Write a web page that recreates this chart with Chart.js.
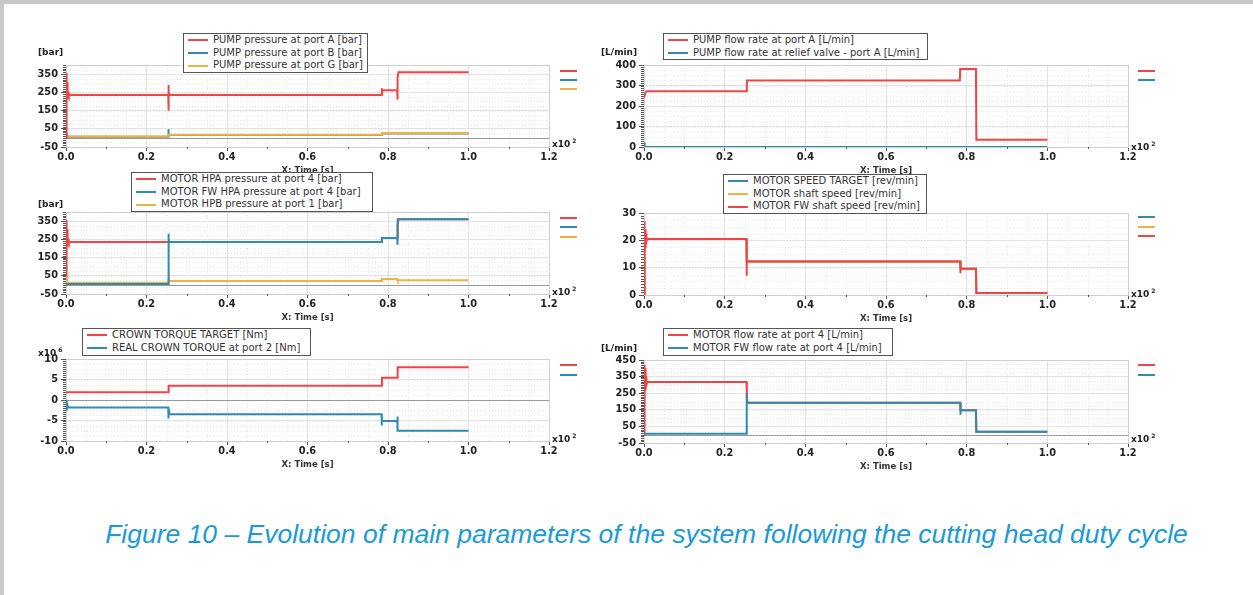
<!DOCTYPE html>
<html>
<head>
<meta charset="utf-8">
<script src="https://cdn.jsdelivr.net/npm/chart.js@4.4.1/dist/chart.umd.min.js"></script>
<style>
html,body{margin:0;padding:0;background:#fff;}
#page{position:relative;width:1253px;height:595px;overflow:hidden;background:#fff;}
.frameTop{position:absolute;left:0;top:0;width:1253px;height:4px;background:#c9c9c9;}
.frameLeft{position:absolute;left:0;top:0;width:4px;height:595px;background:#c9c9c9;}
canvas.cv{position:absolute;z-index:1;}
.legend{position:absolute;background:#fff;border:1px solid #555;font:10px "DejaVu Sans",sans-serif;color:#333;z-index:5;box-sizing:border-box;padding:0 0 0 4px;}
.legend .row{height:12.7px;line-height:12.7px;white-space:nowrap;display:flex;align-items:center;}
.legend .sw{display:inline-block;width:20px;height:2px;margin-right:5px;flex:none;}
.unit{position:absolute;font:bold 9px "DejaVu Sans",sans-serif;color:#222;z-index:4;line-height:10px;}
.mk{position:absolute;width:17px;height:2px;z-index:4;}
.xp{position:absolute;font:bold 9px "DejaVu Sans",sans-serif;color:#222;z-index:4;line-height:10px;}
.xp sup{font-size:6px;vertical-align:4px;margin-left:2px;}
.unit sup{font-size:6px;vertical-align:4px;margin-left:2px;}
.caption{position:absolute;left:0;width:1253px;top:519px;text-align:center;font:italic 26.5px "Liberation Sans",Arial,sans-serif;color:#1a9bd7;z-index:4;padding-left:40px;box-sizing:border-box;white-space:nowrap;}
</style>
</head>
<body>
<div id="page">
  <div class="frameTop"></div>
  <div class="frameLeft"></div>

  <canvas id="cTL" class="cv"></canvas>
  <canvas id="cTR" class="cv"></canvas>
  <canvas id="cML" class="cv"></canvas>
  <canvas id="cMR" class="cv"></canvas>
  <canvas id="cBL" class="cv"></canvas>
  <canvas id="cBR" class="cv"></canvas>

  <!-- legends -->
  <div class="legend" style="left:183px;top:33px;width:185px;height:40px;">
    <div class="row"><span class="sw" style="background:#f24444"></span>PUMP pressure at port A [bar]</div>
    <div class="row"><span class="sw" style="background:#2e8caf"></span>PUMP pressure at port B [bar]</div>
    <div class="row"><span class="sw" style="background:#f5b041"></span>PUMP pressure at port G [bar]</div>
  </div>
  <div class="legend" style="left:663px;top:33px;width:265px;height:27px;">
    <div class="row"><span class="sw" style="background:#f24444"></span>PUMP flow rate at port A [L/min]</div>
    <div class="row"><span class="sw" style="background:#2e8caf"></span>PUMP flow rate at relief valve - port A [L/min]</div>
  </div>
  <div class="legend" style="left:131px;top:172px;width:242px;height:40px;">
    <div class="row"><span class="sw" style="background:#f24444"></span>MOTOR HPA pressure at port 4 [bar]</div>
    <div class="row"><span class="sw" style="background:#2e8caf"></span>MOTOR FW HPA pressure at port 4 [bar]</div>
    <div class="row"><span class="sw" style="background:#f5b041"></span>MOTOR HPB pressure at port 1 [bar]</div>
  </div>
  <div class="legend" style="left:723px;top:174px;width:204px;height:40px;">
    <div class="row"><span class="sw" style="background:#2e8caf"></span>MOTOR SPEED TARGET [rev/min]</div>
    <div class="row"><span class="sw" style="background:#f5b041"></span>MOTOR shaft speed [rev/min]</div>
    <div class="row"><span class="sw" style="background:#f24444"></span>MOTOR FW shaft speed [rev/min]</div>
  </div>
  <div class="legend" style="left:82px;top:328px;width:229px;height:28px;">
    <div class="row"><span class="sw" style="background:#f24444"></span>CROWN TORQUE TARGET [Nm]</div>
    <div class="row"><span class="sw" style="background:#2e8caf"></span>REAL CROWN TORQUE at port 2 [Nm]</div>
  </div>
  <div class="legend" style="left:663px;top:328px;width:230px;height:28px;">
    <div class="row"><span class="sw" style="background:#f24444"></span>MOTOR flow rate at port 4 [L/min]</div>
    <div class="row"><span class="sw" style="background:#2e8caf"></span>MOTOR FW flow rate at port 4 [L/min]</div>
  </div>

  <!-- unit labels -->
  <div class="unit" style="left:38px;top:47px;">[bar]</div>
  <div class="unit" style="left:601px;top:47px;">[L/min]</div>
  <div class="unit" style="left:38px;top:199px;">[bar]</div>
  <div class="unit" style="left:38px;top:345px;">x10<sup>6</sup></div>
  <div class="unit" style="left:601px;top:343px;">[L/min]</div>

  <!-- x10^2 -->
  <div class="xp" style="left:552px;top:136px;">x10<sup>2</sup></div>
  <div class="xp" style="left:1131px;top:139px;">x10<sup>2</sup></div>
  <div class="xp" style="left:552px;top:284px;">x10<sup>2</sup></div>
  <div class="xp" style="left:1131px;top:286px;">x10<sup>2</sup></div>
  <div class="xp" style="left:552px;top:431px;">x10<sup>2</sup></div>
  <div class="xp" style="left:1131px;top:431px;">x10<sup>2</sup></div>

  <!-- right side markers -->
  <div class="mk" style="left:560px;top:70px;background:#f24444"></div>
  <div class="mk" style="left:560px;top:79px;background:#2e8caf"></div>
  <div class="mk" style="left:560px;top:88px;background:#f5b041"></div>
  <div class="mk" style="left:1138px;top:70px;background:#f24444"></div>
  <div class="mk" style="left:1138px;top:79px;background:#2e8caf"></div>
  <div class="mk" style="left:560px;top:217px;background:#f24444"></div>
  <div class="mk" style="left:560px;top:226px;background:#2e8caf"></div>
  <div class="mk" style="left:560px;top:236px;background:#f5b041"></div>
  <div class="mk" style="left:1138px;top:216px;background:#2e8caf"></div>
  <div class="mk" style="left:1138px;top:226px;background:#f5b041"></div>
  <div class="mk" style="left:1138px;top:235px;background:#f24444"></div>
  <div class="mk" style="left:560px;top:364px;background:#f24444"></div>
  <div class="mk" style="left:560px;top:374px;background:#2e8caf"></div>
  <div class="mk" style="left:1138px;top:364px;background:#f24444"></div>
  <div class="mk" style="left:1138px;top:374px;background:#2e8caf"></div>

  <div class="caption">Figure 10 – Evolution of main parameters of the system following the cutting head duty cycle</div>
</div>

<script>
// ---------- shared axis data ----------
const xTickVals   = [0, 0.2, 0.4, 0.6, 0.8, 1.0, 1.2];
const xTickLabels = ['0.0', '0.2', '0.4', '0.6', '0.8', '1.0', '1.2'];

// ---------- top-left: pump pressures [bar] ----------
const tlYTicks = [-50, 50, 150, 250, 350];
const tlTimeA  = [0, 0.001, 0.002, 0.003, 0.004, 0.005, 0.007, 0.254, 0.2545, 0.255, 0.2555, 0.257, 0.784, 0.7845, 0.785, 0.786, 0.823, 0.8235, 0.824, 0.826, 1.0];
const tlPumpA  = [0, 355, 190, 305, 210, 250, 235, 235, 290, 150, 255, 235, 235, 272, 238, 262, 262, 210, 330, 360, 360];
const tlTimeB  = [0, 0.001, 0.003, 0.006, 0.254, 0.2545, 0.255, 0.257, 0.784, 0.785, 1.0];
const tlPumpB  = [0, 25, 8, 6, 6, 48, 20, 16, 16, 24, 24];
const tlTimeG  = [0, 0.254, 0.255, 0.784, 0.785, 0.823, 0.824, 1.0];
const tlPumpG  = [8, 8, 17, 17, 27, 27, 25, 25];

// ---------- top-right: pump flow [L/min] ----------
const trYTicks = [0, 100, 200, 300, 400];
const trTimeQ  = [0, 0.003, 0.006, 0.254, 0.255, 0.783, 0.784, 0.823, 0.824, 1.0];
const trPumpQ  = [240, 262, 272, 272, 325, 325, 380, 380, 35, 35];
const trTimeR  = [0, 0.001, 0.002, 1.0];
const trRelief = [0, 22, 0, 0];

// ---------- middle-left: motor pressures [bar] ----------
const mlYTicks = [-50, 50, 150, 250, 350];
const mlTimeHPA = [0, 0.001, 0.002, 0.003, 0.004, 0.005, 0.007, 0.254, 0.255, 0.784, 0.785, 0.823, 0.824, 1.0];
const mlHPA     = [0, 355, 190, 305, 210, 250, 235, 235, 235, 235, 258, 258, 360, 360];
const mlTimeFW  = [0, 0.254, 0.2545, 0.255, 0.2555, 0.257, 0.784, 0.7845, 0.785, 0.786, 0.823, 0.8235, 0.824, 0.826, 1.0];
const mlFW      = [5, 5, 280, 150, 250, 235, 235, 262, 240, 258, 258, 220, 330, 360, 360];
const mlTimeHPB = [0, 0.001, 0.002, 0.004, 0.254, 0.2545, 0.255, 0.257, 0.784, 0.785, 0.823, 0.824, 1.0];
const mlHPB     = [30, 45, 10, 12, 12, 52, 25, 22, 22, 33, 33, 25, 25];

// ---------- middle-right: speeds [rev/min] ----------
const mrYTicks = [0, 10, 20, 30];
const mrTimeT  = [0, 0.254, 0.255, 0.784, 0.785, 0.823, 0.824, 1.0];
const mrTarget = [20.5, 20.5, 12.3, 12.3, 9.6, 9.6, 0.7, 0.7];
const mrTimeS  = [0, 0.002, 0.006, 0.254, 0.255, 0.784, 0.785, 0.823, 0.824, 1.0];
const mrShaft  = [0, 22, 20.5, 20.5, 12.3, 12.3, 9.6, 9.6, 0.7, 0.7];
const mrTimeFW = [0, 0.001, 0.002, 0.003, 0.004, 0.005, 0.006, 0.008, 0.254, 0.2545, 0.255, 0.257, 0.784, 0.7845, 0.785, 0.786, 0.823, 0.824, 1.0];
const mrFW     = [0, 27, 15, 24, 17, 22.5, 19.5, 20.5, 20.5, 7, 13, 12.3, 12.3, 8, 10, 9.6, 9.6, 0.7, 0.7];

// ---------- bottom-left: crown torque [x10^6 Nm] ----------
const blYTicks = [-10, -5, 0, 5, 10];
const blTimeT  = [0, 0.254, 0.255, 0.784, 0.785, 0.823, 0.824, 1.0];
const blTarget = [1.9, 1.9, 3.5, 3.5, 5.4, 5.4, 8.0, 8.0];
const blTimeR  = [0, 0.001, 0.002, 0.003, 0.005, 0.254, 0.2545, 0.255, 0.257, 0.784, 0.7845, 0.785, 0.823, 0.8235, 0.824, 1.0];
const blReal   = [0, -0.3, -2.6, -1.1, -1.8, -1.8, -4.5, -2.0, -3.5, -3.5, -6.2, -5.1, -5.1, -4.0, -7.5, -7.5];

// ---------- bottom-right: motor flow [L/min] ----------
const brYTicks = [-50, 50, 150, 250, 350, 450];
const brTimeM  = [0, 0.001, 0.002, 0.003, 0.004, 0.005, 0.006, 0.008, 0.254, 0.255, 0.256, 0.784, 0.785, 0.823, 0.824, 1.0];
const brMotor  = [0, 420, 230, 400, 270, 350, 300, 318, 318, 250, 192, 192, 148, 148, 18, 18];
const brTimeFW = [0, 0.254, 0.2545, 0.255, 0.784, 0.7845, 0.785, 0.786, 0.823, 0.824, 1.0];
const brFW     = [5, 5, 250, 192, 192, 120, 155, 148, 148, 18, 18];

// ---------- styling ----------
const RED = '#f24444', BLUE = '#2e8caf', ORANGE = '#f5b041';
const AXIS = '#555';
const TICK_FONT = {family: 'DejaVu Sans', size: 9.8, weight: 'bold'};

const pts = (t, v) => t.map((x, i) => ({x: x, y: v[i]}));

const decor = {
  id: 'decor',
  beforeDatasetsDraw(chart, args, o) {
    const {ctx, chartArea: a, scales: {x, y}} = chart;
    ctx.save();
    ctx.lineWidth = 1;
    ctx.strokeStyle = '#e8e8e8';
    ctx.setLineDash([1, 2]);
    for (let k = 1; k < 24; k++) {
      if (k % 4 === 0) continue;
      const px = Math.round(x.getPixelForValue(k * 0.05)) + 0.5;
      ctx.beginPath(); ctx.moveTo(px, a.top); ctx.lineTo(px, a.bottom); ctx.stroke();
    }
    const n = Math.round((o.max - o.min) / o.gridStep);
    for (let k = 1; k < n; k++) {
      const v = o.min + k * o.gridStep;
      const py = Math.round(y.getPixelForValue(v)) + 0.5;
      ctx.beginPath(); ctx.moveTo(a.left, py); ctx.lineTo(a.right, py); ctx.stroke();
    }
    ctx.setLineDash([]);
    ctx.strokeStyle = '#cfcfcf';
    ctx.strokeRect(a.left + 0.5, a.top + 0.5, a.right - a.left, a.bottom - a.top);
    if (0 > o.min && 0 < o.max) {
      const py = Math.round(y.getPixelForValue(0)) + 0.5;
      ctx.strokeStyle = '#9a9a9a';
      ctx.beginPath(); ctx.moveTo(a.left, py); ctx.lineTo(a.right, py); ctx.stroke();
    }
    ctx.restore();
  },
  afterDraw(chart, args, o) {
    const {ctx, chartArea: a, scales: {x, y}} = chart;
    ctx.save();
    ctx.strokeStyle = AXIS;
    ctx.lineWidth = 1;
    const n = Math.round((o.max - o.min) / o.tickStep);
    for (let k = 0; k <= n; k++) {
      const py = Math.round(y.getPixelForValue(o.min + k * o.tickStep)) + 0.5;
      ctx.beginPath(); ctx.moveTo(a.left - 3, py); ctx.lineTo(a.left, py); ctx.stroke();
    }
    for (let k = 1; k < 12; k += 2) {
      const px = Math.round(x.getPixelForValue(k * 0.1)) + 0.5;
      ctx.beginPath(); ctx.moveTo(px, a.bottom); ctx.lineTo(px, a.bottom + 2); ctx.stroke();
    }
    ctx.restore();
  }
};

function build(id, g, yMin, yMax, yTicks, gridStep, tickStep, series) {
  const cv = document.getElementById(id);
  cv.width = g.w; cv.height = g.h;
  cv.style.left = g.x + 'px'; cv.style.top = g.y + 'px';
  cv.style.width = g.w + 'px'; cv.style.height = g.h + 'px';
  const yW = g.l - g.x;
  const xH = 30;
  const padTop = g.t - g.y;
  const padRight = g.x + g.w - g.r;
  const padBottom = g.y + g.h - (g.b + xH);
  new Chart(cv, {
    type: 'line',
    data: {
      datasets: series.map(s => ({
        label: s.label,
        data: pts(s.t, s.v),
        borderColor: s.color,
        backgroundColor: s.color,
        borderWidth: 2,
        pointRadius: 0,
        tension: 0,
        fill: false,
        order: s.order
      }))
    },
    options: {
      responsive: false,
      animation: false,
      devicePixelRatio: 1,
      layout: {padding: {left: 0, top: padTop, right: padRight, bottom: padBottom}},
      plugins: {
        legend: {display: false},
        tooltip: {enabled: false},
        decor: {min: yMin, max: yMax, gridStep: gridStep, tickStep: tickStep}
      },
      scales: {
        x: {
          type: 'linear', min: 0, max: 1.2,
          afterBuildTicks: s => { s.ticks = xTickVals.map(v => ({value: v})); },
          afterFit: s => { s.height = xH; },
          ticks: {
            callback: (v, i) => xTickLabels[i],
            font: TICK_FONT, color: '#222', padding: 1,
            maxRotation: 0, autoSkip: false
          },
          grid: {color: '#e2e2e2', tickColor: AXIS, tickLength: 4},
          border: {color: AXIS, width: 1},
          title: {
            display: true, text: 'X: Time [s]',
            font: {family: 'DejaVu Sans', size: 8.5, weight: 'bold'},
            color: '#333', padding: {top: 0, bottom: 1}
          }
        },
        y: {
          type: 'linear', min: yMin, max: yMax,
          afterBuildTicks: s => { s.ticks = yTicks.map(v => ({value: v})); },
          afterFit: s => { s.width = yW; },
          ticks: {
            callback: (v, i) => String(yTicks[i]),
            font: TICK_FONT, color: '#222', padding: 3, autoSkip: false
          },
          grid: {color: '#e2e2e2', tickColor: AXIS, tickLength: 5},
          border: {color: AXIS, width: 1}
        }
      }
    },
    plugins: [decor]
  });
}

build('cTL', {x: 20, y: 50, w: 570, h: 128, l: 66, r: 549, t: 65, b: 147}, -50, 400, tlYTicks, 25, 10, [
  {label: 'PUMP pressure at port A [bar]', color: RED, t: tlTimeA, v: tlPumpA, order: 0},
  {label: 'PUMP pressure at port B [bar]', color: BLUE, t: tlTimeB, v: tlPumpB, order: 2},
  {label: 'PUMP pressure at port G [bar]', color: ORANGE, t: tlTimeG, v: tlPumpG, order: 1}
]);
build('cTR', {x: 598, y: 50, w: 572, h: 128, l: 644, r: 1128, t: 65, b: 147}, 0, 400, trYTicks, 25, 10, [
  {label: 'PUMP flow rate at port A [L/min]', color: RED, t: trTimeQ, v: trPumpQ, order: 0},
  {label: 'PUMP flow rate at relief valve - port A [L/min]', color: BLUE, t: trTimeR, v: trRelief, order: 1}
]);
build('cML', {x: 20, y: 197, w: 570, h: 128, l: 66, r: 549, t: 212, b: 294}, -50, 400, mlYTicks, 25, 10, [
  {label: 'MOTOR HPA pressure at port 4 [bar]', color: RED, t: mlTimeHPA, v: mlHPA, order: 2},
  {label: 'MOTOR FW HPA pressure at port 4 [bar]', color: BLUE, t: mlTimeFW, v: mlFW, order: 0},
  {label: 'MOTOR HPB pressure at port 1 [bar]', color: ORANGE, t: mlTimeHPB, v: mlHPB, order: 1}
]);
build('cMR', {x: 598, y: 198, w: 572, h: 128, l: 644, r: 1128, t: 213, b: 295}, 0, 30, mrYTicks, 2.5, 1, [
  {label: 'MOTOR SPEED TARGET [rev/min]', color: BLUE, t: mrTimeT, v: mrTarget, order: 2},
  {label: 'MOTOR shaft speed [rev/min]', color: ORANGE, t: mrTimeS, v: mrShaft, order: 1},
  {label: 'MOTOR FW shaft speed [rev/min]', color: RED, t: mrTimeFW, v: mrFW, order: 0}
]);
build('cBL', {x: 20, y: 344, w: 570, h: 128, l: 66, r: 549, t: 359, b: 441}, -10, 10, blYTicks, 1.25, 0.5, [
  {label: 'CROWN TORQUE TARGET [Nm]', color: RED, t: blTimeT, v: blTarget, order: 0},
  {label: 'REAL CROWN TORQUE at port 2 [Nm]', color: BLUE, t: blTimeR, v: blReal, order: 1}
]);
build('cBR', {x: 598, y: 345, w: 572, h: 128, l: 644, r: 1128, t: 360, b: 443}, -50, 450, brYTicks, 25, 10, [
  {label: 'MOTOR flow rate at port 4 [L/min]', color: RED, t: brTimeM, v: brMotor, order: 1},
  {label: 'MOTOR FW flow rate at port 4 [L/min]', color: BLUE, t: brTimeFW, v: brFW, order: 0}
]);
</script>
</body>
</html>
